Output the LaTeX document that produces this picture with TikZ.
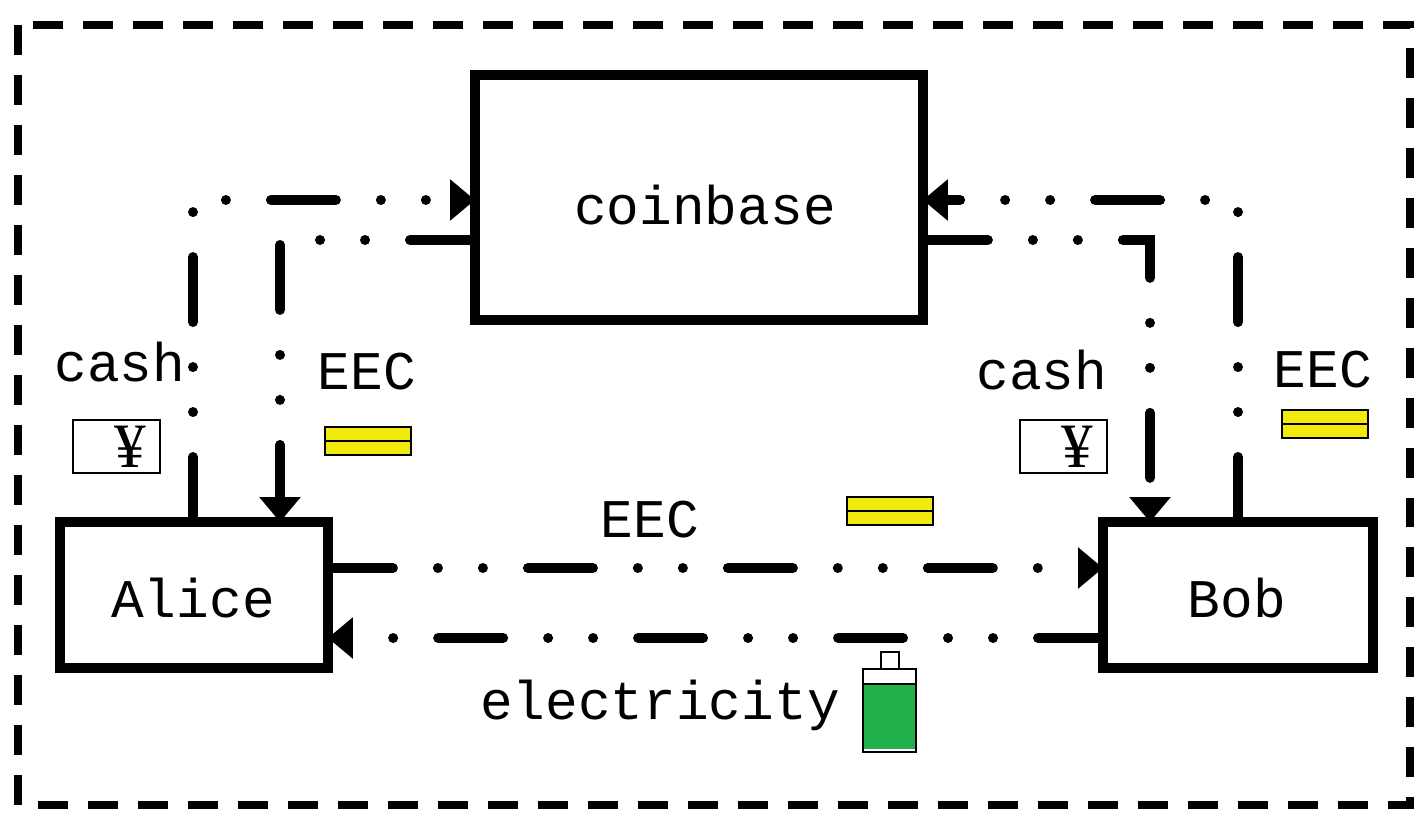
\documentclass[tikz,border=0pt]{standalone}
\usepackage{fontspec}
\setmainfont{Liberation Mono}
\newfontfamily\yenfont{Liberation Serif}
\usetikzlibrary{positioning, arrows.meta, calc}
\tikzset{every path/.append style={line width=0.2cm}}
\definecolor{coinyellow}{RGB}{242,234,12}
\definecolor{battgreen}{RGB}{34,176,76}
\tikzset{
 party/.style={draw, rectangle, inner sep=0pt, outer sep=0pt},
 flow/.style={dash pattern=on 1.3cm off 0.9cm on 0cm off 0.9cm on 0cm off 0.9cm, line cap=round},
 tip/.style={-{Triangle[length=0.5cm,width=0.8cm]}},
 lbl/.style={font=\fontsize{31}{31}\selectfont, inner sep=0pt}
}
\newcommand{\cashicon}[1]{\draw[line width=0.6pt] (#1) rectangle ++(87,53);
 \node[inner sep=0pt, font=\yenfont\fontsize{36}{36}\selectfont] at ($(#1)+(57,27)$) {¥};}
\newcommand{\coinicon}[1]{\draw[line width=0.6pt, fill=coinyellow] (#1) rectangle ++(86,28);
 \draw[line width=1.2pt] ($(#1)+(0,14)$) -- ++(86,0);}
\begin{document}
\begin{tikzpicture}[x=0.02cm,y=-0.02cm]
 \useasboundingbox (0,0) rectangle (1428,822);
 \draw[line width=0.16cm, dash pattern=on 0.6cm off 0.4cm] (18,25) rectangle (1410,805);
 % boxes
 \node[party, minimum width=8.96cm, minimum height=4.9cm, anchor=north west] (coinbase) at (475,75) {};
 \node[lbl] at (705,205) {coinbase};
 \node[party, minimum width=5.36cm, minimum height=2.92cm, anchor=north west] (alice) at (60,522) {};
 \node[lbl] at (193,598) {Alice};
 \node[party, minimum width=5.4cm, minimum height=2.92cm, anchor=north west] (bob) at (1103,522) {};
 \node[lbl] at (1237,598) {Bob};
 % corners
 \coordinate (a1) at (193,200);
 \coordinate (a2) at (280,240);
 \coordinate (b1) at (1238,200);
 \coordinate (b2) at (1150,240);
 % flows
 \draw[flow, tip] (alice.north west -| a1) -- (a1) -- (coinbase.west |- a1);
 \draw[flow, tip] (coinbase.west |- a2) -- (a2) -- (alice.north west -| a2);
 \draw[flow, tip] (bob.north west -| b1) -- (b1) -- (coinbase.east |- b1);
 \draw[flow, tip] (coinbase.east |- b2) -- (b2) -- (bob.north west -| b2);
 \coordinate (m1) at (0,568);
 \coordinate (m2) at (0,638);
 \draw[flow, tip] (alice.east |- m1) -- (bob.west |- m1);
 \draw[flow, tip] (bob.west |- m2) -- (alice.east |- m2);
 % labels
 \node[lbl] at (120,362) {cash};
 \node[lbl] at (367,372) {EEC};
 \node[lbl] at (1042,370) {cash};
 \node[lbl] at (1323,370) {EEC};
 \node[lbl] at (650,520) {EEC};
 \node[lbl] at (660,705) {electricity};
 % icons
 \cashicon{73,420}
 \cashicon{1020,420}
 \coinicon{325,427}
 \coinicon{847,497}
 \coinicon{1282,410}
 \draw[line width=0.6pt] (881,652) rectangle (899,669);
 \draw[line width=0.6pt] (863,669) rectangle (916,752);
 \fill[battgreen] (864,684) rectangle (915,749);
 \draw[line width=0.6pt] (863,684) -- (916,684);
\end{tikzpicture}
\end{document}
